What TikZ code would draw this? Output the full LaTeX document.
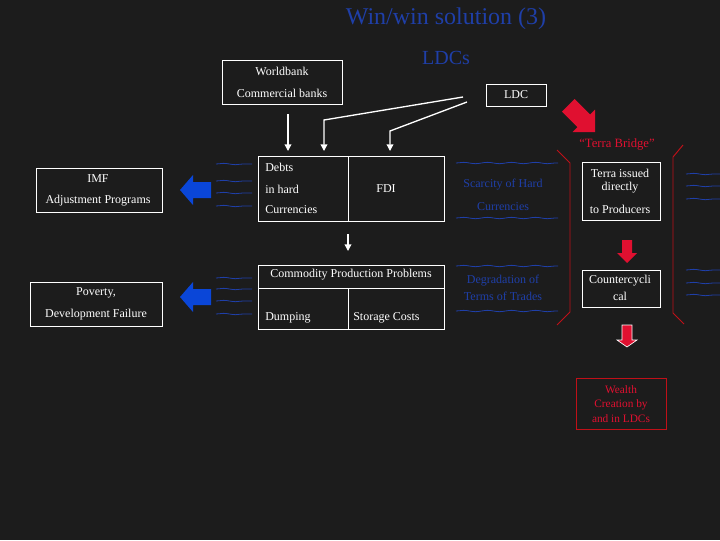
\documentclass[tikz,border=0pt]{standalone}
\usepackage{fontspec}
\setmainfont{Liberation Serif}
\usetikzlibrary{arrows.meta,decorations.pathmorphing}
\definecolor{bg}{HTML}{1C1C1C}
\definecolor{tb}{HTML}{1F3FA8}
\definecolor{bb}{HTML}{0A46D8}
\definecolor{rr}{HTML}{E01030}
\definecolor{dr}{HTML}{C01018}
\begin{document}
\begin{tikzpicture}[x=0.75pt,y=-0.75pt,
  box/.style={draw=white,line width=0.7pt},
  t/.style={text=white,font=\fontsize{9}{10}\selectfont,inner sep=0pt},
  bt/.style={text=tb,font=\fontsize{9}{10}\selectfont,inner sep=0pt},
  wa/.style={white,line width=1pt,-{Triangle[width=5pt,length=5pt]}},
  wave/.style={tb,line width=0.6pt,decorate,decoration={snake,amplitude=0.5pt,segment length=18pt}}]
\fill[bg] (0,0) rectangle (720,540);
\useasboundingbox (0,0) rectangle (720,540);
\node[text=tb,font=\fontsize{18}{21}\selectfont] (title) at (446,19) {Win/win solution (3)};
\node[text=tb,font=\fontsize{15}{18}\selectfont] (ldcs) at (446,58) {LDCs};
% Worldbank
\draw[box] (222,60) rectangle (342,104);
\node[t] (wb) at (282,71) {Worldbank};
\node[t] (cb) at (282,93) {Commercial banks};
\draw[box] (486,84) rectangle (546,106);
\node[t] (ldc) at (516,95) {LDC};
\coordinate (a1s) at (288,114); \coordinate (a1e) at (288,151);
\draw[wa] (a1s) -- (a1e);
\coordinate (l1) at (463,97); \coordinate (l1b) at (324,120); \coordinate (l1e) at (324,151);
\draw[wa] (l1) -- (l1b) -- (l1e);
\coordinate (l2) at (467,102); \coordinate (l2b) at (390,131); \coordinate (l2e) at (390,151);
\draw[wa] (l2) -- (l2b) -- (l2e);
% Debts box
\draw[box] (258,156) rectangle (444,221);
\draw[box] (348,156) -- (348,221);
\node[t,anchor=west] (debts) at (265,167) {Debts};
\node[t,anchor=west] (inh) at (265,189) {in hard};
\node[t,anchor=west] (cur) at (265,210) {Currencies};
\node[t] (fdi) at (386,189) {FDI};
\coordinate (m1) at (348,234); \coordinate (m2) at (348,251);
\draw[wa] (m1) -- (m2);
% Commodity box
\draw[box] (258,265) rectangle (444,329);
\draw[box] (258,288) -- (444,288);
\draw[box] (348,288) -- (348,329);
\node[t] (cpp) at (351,275) {Commodity Production Problems};
\node[t,anchor=west] (dump) at (265,318) {Dumping};
\node[t,anchor=west] (stor) at (353,318) {Storage Costs};
% Left boxes
\draw[box] (36,168) rectangle (162,212);
\node[t] (imf) at (98,179) {IMF};
\node[t] (adj) at (98,201) {Adjustment Programs};
\draw[box] (30,282) rectangle (162,326);
\node[t] (pov) at (96,293) {Poverty,};
\node[t] (dev) at (96,315) {Development Failure};
\foreach \y in {190,297}
  \fill[bb] (180,\y) -- (193,\y-15) -- (193,\y-8) -- (211,\y-8) -- (211,\y+8) -- (193,\y+8) -- (193,\y+15) -- cycle;
% waves
\foreach \y in {164,181,193,206,278,289,301,314} \draw[wave] (216,\y) -- (252,\y);
\foreach \y in {163,218,266,311} \draw[wave] (456,\y) -- (558,\y);
\foreach \y in {174,186,199,270,283,295} \draw[wave] (686,\y) -- (720,\y);
\node[bt] (sc1) at (503,185) {Scarcity of Hard};
\node[bt] (sc2) at (503,207) {Currencies};
\node[bt] (dg1) at (503,281) {Degradation of};
\node[bt] (dg2) at (503,296) {Terms of Trades};
% brackets
\draw[dr,line width=0.7pt] (557,150) -- (570,163) -- (570,312) -- (557,325);
\draw[dr,line width=0.7pt] (683,145) -- (673,157) -- (673,313) -- (684,324);
\node[text=rr,font=\fontsize{9.5}{11}\selectfont,inner sep=0pt] (tbr) at (617,144) {“Terra Bridge”};
% diagonal red arrow
\fill[rr,shift={(581,118)},rotate=-45]
  (-18,-9) -- (4,-9) -- (4,-16) -- (20,0) -- (4,16) -- (4,9) -- (-18,9) -- cycle;
\draw[box] (582,162) rectangle (660,220);
\node[t] (ti1) at (620,173) {Terra issued};
\node[t] (ti2) at (620,188) {directly};
\node[t] (ti3) at (620,209) {to Producers};
\fill[rr] (622,240) -- (632,240) -- (632,253) -- (637,253) -- (627,263) -- (617,253) -- (622,253) -- cycle;
\draw[box] (582,270) rectangle (660,307);
\node[t] (cc1) at (620,281) {Countercycli};
\node[t] (cc2) at (620,296) {cal};
\filldraw[fill=rr,draw=white,line width=0.5pt] (622,325) -- (632,325) -- (632,340) -- (637,340) -- (627,347) -- (617,340) -- (622,340) -- cycle;
\draw[dr,line width=0.7pt] (576,378) rectangle (666,429);
\node[text=rr,font=\fontsize{8.5}{10}\selectfont,inner sep=0pt,align=center] (w) at (621,404) {Wealth\\[1pt]Creation by\\[1pt]and in LDCs};
\end{tikzpicture}
\end{document}
